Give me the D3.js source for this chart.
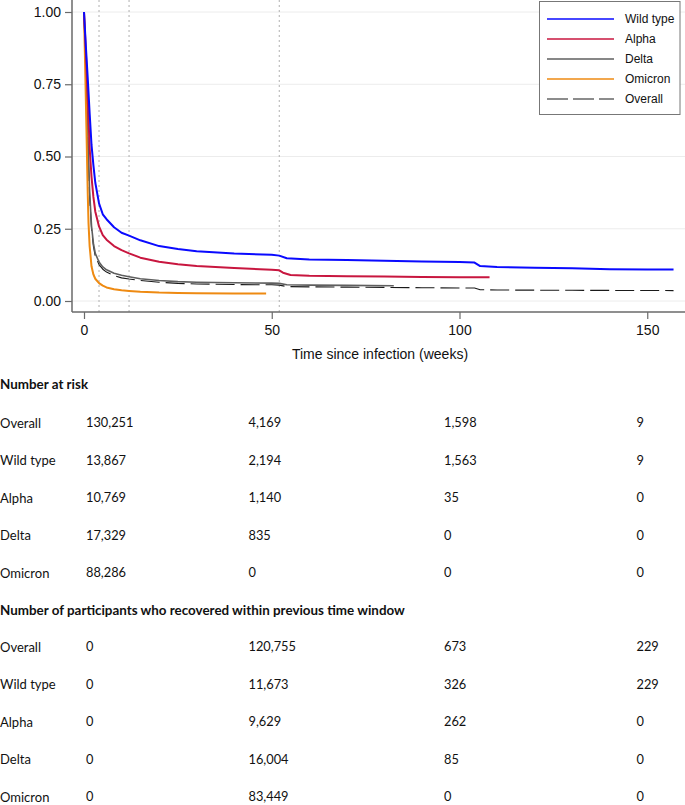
<!DOCTYPE html>
<html>
<head>
<meta charset="utf-8">
<script src="https://cdn.jsdelivr.net/npm/d3@7"></script>
<style>
html, body { margin: 0; padding: 0; background: #fff; }
svg { display: block; }
</style>
</head>
<body>
<svg id="chart" width="685" height="805"></svg>
<script>
// ---------- DATA ----------
const seriesNames = ["Wild type", "Alpha", "Delta", "Omicron", "Overall"];

const wildType = [[0,1],[0.5,0.88],[1,0.77],[1.5,0.65],[2,0.54],[2.5,0.47],[3,0.41],[4,0.338],[5,0.3],[6,0.283],[8,0.255],[10,0.236],[12,0.226],[15,0.21],[20,0.19],[25,0.18],[30,0.172],[40,0.164],[50,0.16],[52,0.157],[54,0.148],[60,0.144],[70,0.142],[80,0.139],[90,0.137],[100,0.135],[104,0.133],[105.5,0.121],[110,0.118],[120,0.115],[130,0.113],[140,0.11],[150,0.109],[157,0.109]];

const alpha = [[0,1],[0.5,0.86],[1,0.7],[1.5,0.53],[2,0.43],[2.5,0.36],[3,0.31],[4,0.258],[5,0.228],[6,0.212],[8,0.19],[10,0.176],[12,0.165],[15,0.15],[20,0.136],[25,0.127],[30,0.121],[40,0.114],[50,0.108],[52,0.106],[53,0.098],[55,0.09],[60,0.087],[70,0.086],[80,0.085],[90,0.083],[100,0.082],[108,0.082]];

const delta = [[0,1],[0.5,0.82],[1,0.58],[1.5,0.38],[2,0.26],[2.5,0.2],[3,0.165],[4,0.135],[5,0.118],[6,0.108],[8,0.096],[10,0.089],[12,0.084],[15,0.077],[20,0.071],[25,0.067],[30,0.065],[40,0.063],[50,0.062],[52,0.061],[54,0.056],[60,0.055],[70,0.054],[82.5,0.053]];

const omicron = [[0,1],[0.5,0.69],[1,0.37],[1.2,0.27],[1.5,0.19],[2,0.12],[2.5,0.092],[3,0.077],[4,0.062],[5,0.053],[6,0.047],[8,0.041],[10,0.037],[12,0.035],[15,0.032],[20,0.029],[25,0.028],[30,0.027],[40,0.026],[48.5,0.026]];

const overall = [[0,1],[0.5,0.8],[1,0.55],[1.5,0.36],[2,0.25],[2.5,0.19],[3,0.155],[4,0.126],[5,0.11],[6,0.1],[8,0.088],[10,0.08],[12,0.076],[15,0.071],[20,0.065],[25,0.061],[30,0.059],[40,0.057],[50,0.056],[52,0.055],[54,0.05],[60,0.049],[70,0.048],[80,0.047],[90,0.046],[100,0.045],[104,0.045],[105.5,0.039],[110,0.038],[130,0.037],[157,0.036]];

const refWeeks = [4, 12, 52];
const xTicks = [0, 50, 100, 150];
const yTicks = [0, 0.25, 0.5, 0.75, 1];

const rowLabels = ["Overall", "Wild type", "Alpha", "Delta", "Omicron"];
const atRisk = [
  ["130,251", "4,169", "1,598", "9"],
  ["13,867", "2,194", "1,563", "9"],
  ["10,769", "1,140", "35", "0"],
  ["17,329", "835", "0", "0"],
  ["88,286", "0", "0", "0"]
];
const recovered = [
  ["0", "120,755", "673", "229"],
  ["0", "11,673", "326", "229"],
  ["0", "9,629", "262", "0"],
  ["0", "16,004", "85", "0"],
  ["0", "83,449", "0", "0"]
];
const tableTitles = ["Number at risk", "Number of participants who recovered within previous time window"];

// ---------- LAYOUT / STYLE ----------
const svg = d3.select("#chart");
const axisFont = "'Liberation Sans', Arial, sans-serif";
const tableFont = "Lato, 'Open Sans', sans-serif";

const x = d3.scaleLinear().domain([0, 160]).range([84, 84 + 160 * 3.755]);
const y = d3.scaleLinear().domain([0, 1]).range([301, 12]);

const plotLeft = 72, plotRight = 685, plotTop = 0, plotBottom = 312;

const styles = {
  "Wild type": { color: "#0a0aff", width: 2, dash: null, data: wildType },
  "Alpha": { color: "#c8163f", width: 2, dash: null, data: alpha },
  "Delta": { color: "#5f5f5f", width: 1.6, dash: null, data: delta },
  "Omicron": { color: "#ee8a12", width: 2, dash: null, data: omicron },
  "Overall": { color: "#1a1a1a", width: 1.1, dash: "19,6", data: overall }
};

// gridlines
svg.append("g").selectAll("line").data(yTicks).join("line")
  .attr("x1", plotLeft).attr("x2", plotRight)
  .attr("y1", d => y(d)).attr("y2", d => y(d))
  .attr("stroke", "#ececec").attr("stroke-width", 1);

// reference lines
svg.append("g").selectAll("line").data(refWeeks).join("line")
  .attr("x1", d => x(d)).attr("x2", d => x(d))
  .attr("y1", plotTop).attr("y2", plotBottom)
  .attr("stroke", "#b0b0b0").attr("stroke-width", 1).attr("stroke-dasharray", "2,3");

// curves
const line = d3.line().x(d => x(d[0])).y(d => y(d[1]));
const drawOrder = ["Overall", "Delta", "Omicron", "Alpha", "Wild type"];
svg.append("g").selectAll("path").data(drawOrder).join("path")
  .attr("d", n => line(styles[n].data))
  .attr("fill", "none")
  .attr("stroke", n => styles[n].color)
  .attr("stroke-width", n => styles[n].width)
  .attr("stroke-dasharray", n => styles[n].dash)
  .attr("stroke-linejoin", "round");

// axes
const yAxis = svg.append("g").attr("transform", `translate(${plotLeft},0)`)
  .call(d3.axisLeft(y).tickValues(yTicks).tickFormat(d3.format(".2f")).tickSize(7).tickPadding(4));
yAxis.select(".domain").attr("d", `M0,${plotTop}V${plotBottom}`);
const xAxis = svg.append("g").attr("transform", `translate(0,${plotBottom})`)
  .call(d3.axisBottom(x).tickValues(xTicks).tickFormat(d3.format("d")).tickSize(7).tickPadding(6));
xAxis.select(".domain").attr("d", `M${plotLeft},0H${plotRight}`);
[yAxis, xAxis].forEach(a => {
  a.selectAll(".domain").attr("stroke", "#6a6a6a").attr("stroke-width", 1.5);
  a.selectAll(".tick line").attr("stroke", "#6a6a6a").attr("stroke-width", 1.2);
  a.selectAll("text").attr("font-family", axisFont).attr("font-size", 14).attr("fill", "#111");
});

svg.append("text")
  .attr("x", 380).attr("y", 359)
  .attr("text-anchor", "middle")
  .attr("font-family", axisFont).attr("font-size", 14).attr("fill", "#111")
  .text("Time since infection (weeks)");

// legend
const lg = svg.append("g");
lg.append("rect").attr("x", 539.5).attr("y", 1.5).attr("width", 140.5).attr("height", 113)
  .attr("fill", "#fff").attr("stroke", "#777").attr("stroke-width", 1);
seriesNames.forEach((n, i) => {
  const yy = 19 + i * 20;
  lg.append("line").attr("x1", 547).attr("x2", 614).attr("y1", yy).attr("y2", yy)
    .attr("stroke", styles[n].color).attr("stroke-width", n === "Overall" ? 1.1 : 1.6)
    .attr("stroke-dasharray", n === "Overall" ? "21,5" : null);
  lg.append("text").attr("x", 625).attr("y", yy).attr("dy", "0.35em")
    .attr("font-family", axisFont).attr("font-size", 12).attr("fill", "#111").text(n);
});

// tables
const colX = [86, 248.5, 444, 636.5];
function drawTable(title, rows, titleY, firstRowY) {
  svg.append("text").attr("x", 0).attr("y", titleY).attr("dy", "0.35em")
    .attr("font-family", tableFont).attr("font-size", 13.4).attr("font-weight", "bold")
    .attr("fill", "#111").text(title);
  const rowY = d3.scaleLinear().domain([0, 1]).range([firstRowY, firstRowY + 37.5]);
  const g = svg.append("g");
  const r = g.selectAll("g").data(rows).join("g")
    .attr("transform", (d, i) => `translate(0,${rowY(i)})`);
  r.append("text").attr("x", 0).attr("dy", "0.35em")
    .attr("font-family", tableFont).attr("font-size", 13).attr("fill", "#111")
    .text((d, i) => rowLabels[i]);
  r.selectAll("text.v").data(d => d).join("text").attr("class", "v")
    .attr("x", (d, j) => colX[j]).attr("dy", "0.35em")
    .attr("font-family", tableFont).attr("font-size", 12.8).attr("fill", "#111")
    .text(d => d);
}
drawTable(tableTitles[0], atRisk, 384, 423);
drawTable(tableTitles[1], recovered, 610, 647);
</script>
</body>
</html>
